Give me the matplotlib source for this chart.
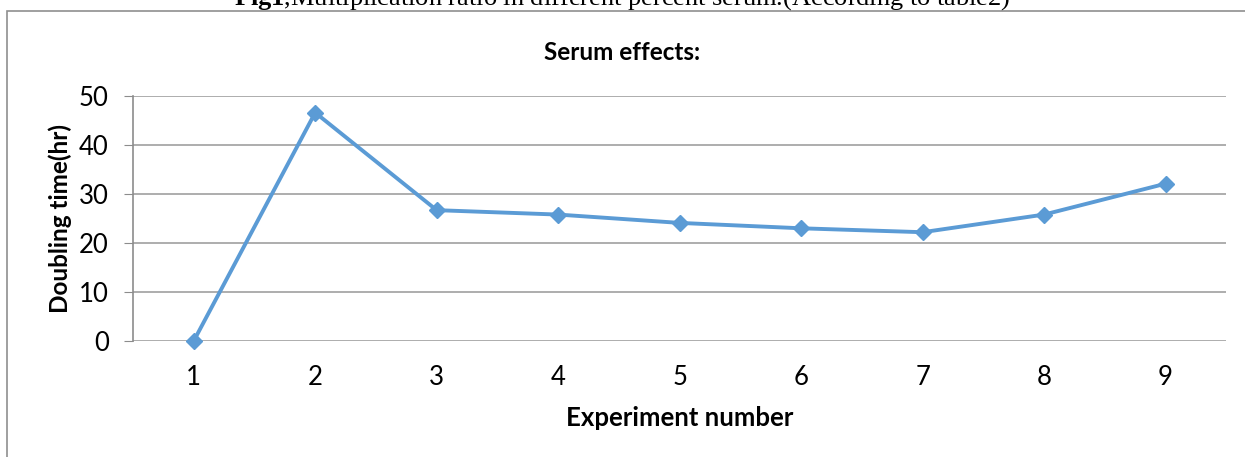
import matplotlib.pyplot as plt
from matplotlib.patches import Rectangle

# data
experiment = [1, 2, 3, 4, 5, 6, 7, 8, 9]
doubling_time = [0, 46.6, 26.7, 25.8, 24.1, 23.0, 22.2, 25.8, 32.1]
y_ticks = [0, 10, 20, 30, 40, 50]

plt.rcParams['font.family'] = ['Lato', 'DejaVu Sans']
plt.rcParams['mathtext.fontset'] = 'custom'
plt.rcParams['mathtext.rm'] = 'Liberation Serif'
plt.rcParams['mathtext.bf'] = 'Liberation Serif:bold'

fig = plt.figure(figsize=(12.45, 4.57), dpi=100)
ax = fig.add_axes([0.1068, 0.2538, 0.8782, 0.5362])

# outer chart frame
fig.patches.append(Rectangle((7 / 1245, -0.2), 1.1, 1.2 - 11 / 457,
                             transform=fig.transFigure, fill=False,
                             edgecolor='#8f8f8f', linewidth=1.2))

ax.plot(experiment, doubling_time, color='#5B9BD5', linewidth=2.8,
        marker='D', markersize=8, markerfacecolor='#5B9BD5', markeredgecolor='#5B9BD5',
        clip_on=False)

ax.set_xlim(0.5, 9.5)
ax.set_ylim(0, 50)
ax.set_yticks(y_ticks)
ax.set_xticks(experiment)
ax.tick_params(axis='y', labelsize=18.5, length=6.5, color='#8c8c8c', pad=11)
ax.tick_params(axis='x', labelsize=18.5, length=0, pad=17)
ax.yaxis.grid(True, color='#a0a0a0', linewidth=1.2)
ax.set_axisbelow(True)
for side in ['top', 'right', 'bottom']:
    ax.spines[side].set_visible(False)
ax.spines['left'].set_color('#8c8c8c')
ax.spines['left'].set_linewidth(1.2)

ax.set_xlabel("Experiment number", fontsize=18.5, fontweight='bold', labelpad=12)
ax.set_ylabel("Doubling time(hr)", fontsize=17.5, fontweight='bold', labelpad=5)
fig.text(0.5, 1 - 52 / 457, "Serum effects:", ha='center', va='center',
         fontsize=17.5, fontweight='bold')

# caption cut at top of the page
fig.text(0.5, 1 - 5 / 457, r"$\mathbf{Fig1}$,Multiplication ratio in different percent serum.(According to table2)",
         ha='center', va='baseline', fontsize=19, family='Liberation Serif')

plt.savefig("out.png", dpi=100)
